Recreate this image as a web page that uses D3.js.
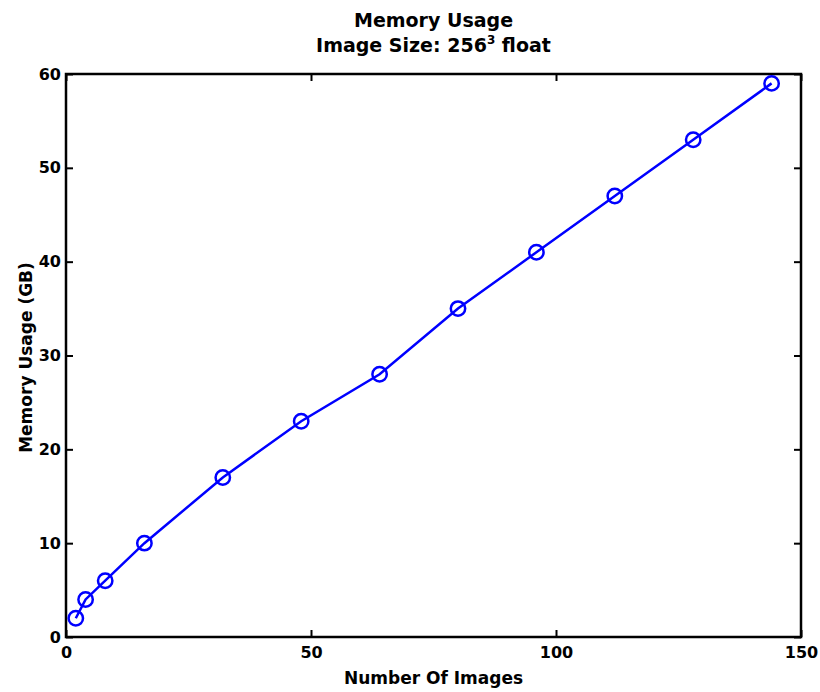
<!DOCTYPE html>
<html lang="en">
<head>
  <meta charset="UTF-8">
  <title>Memory Usage</title>
  <script src="https://d3js.org/d3.v7.min.js"></script>
  <style>
    body { margin: 0; background: #fff; }
    text { font-family: "DejaVu Sans", "Liberation Sans", Arial, sans-serif; font-weight: bold; fill: #000; }
  </style>
</head>
<body>
  <div id="chart"></div>
  <script>
    // data
    const numImages = [2, 4, 8, 16, 32, 48, 64, 80, 96, 112, 128, 144];
    const memoryGB = [2, 4, 6, 10, 17, 23, 28, 35, 41, 47, 53, 59];
    const xTicks = [0, 50, 100, 150];
    const yTicks = [0, 10, 20, 30, 40, 50, 60];

    const width = 820, height = 692;
    const margin = { top: 74, right: 19, bottom: 55, left: 66 };

    const svg = d3.select('#chart').append('svg')
      .attr('width', width)
      .attr('height', height);

    const x = d3.scaleLinear().domain([0, 150]).range([margin.left, width - margin.right]);
    const y = d3.scaleLinear().domain([0, 60]).range([height - margin.bottom, margin.top]);

    const tickLen = 7;

    // bottom axis (ticks inward)
    const gx = svg.append('g')
      .attr('transform', `translate(0, ${height - margin.bottom})`)
      .call(d3.axisBottom(x).tickValues(xTicks).tickSize(-tickLen).tickPadding(10));
    // left axis
    const gy = svg.append('g')
      .attr('transform', `translate(${margin.left}, 0)`)
      .call(d3.axisLeft(y).tickValues(yTicks).tickSize(-tickLen).tickPadding(5));
    // top and right ticks, no labels
    const gt = svg.append('g')
      .attr('transform', `translate(0, ${margin.top})`)
      .call(d3.axisTop(x).tickValues(xTicks).tickSize(-tickLen).tickFormat(''));
    const gr = svg.append('g')
      .attr('transform', `translate(${width - margin.right}, 0)`)
      .call(d3.axisRight(y).tickValues(yTicks).tickSize(-tickLen).tickFormat(''));

    [gx, gy, gt, gr].forEach(g => {
      g.select('.domain').remove();
      g.selectAll('line').attr('stroke', '#000').attr('stroke-width', 2);
      g.selectAll('text').style('font-size', '16px');
    });

    // box
    svg.append('rect')
      .attr('x', margin.left)
      .attr('y', margin.top)
      .attr('width', width - margin.left - margin.right)
      .attr('height', height - margin.top - margin.bottom)
      .attr('fill', 'none')
      .attr('stroke', '#000')
      .attr('stroke-width', 2.5);

    const pts = numImages.map((d, i) => [d, memoryGB[i]]);

    svg.append('path')
      .datum(pts)
      .attr('fill', 'none')
      .attr('stroke', '#0000ff')
      .attr('stroke-width', 2.5)
      .attr('d', d3.line().x(d => x(d[0])).y(d => y(d[1])));

    svg.selectAll('circle.pt')
      .data(pts)
      .enter()
      .append('circle')
      .attr('class', 'pt')
      .attr('cx', d => x(d[0]))
      .attr('cy', d => y(d[1]))
      .attr('r', 7.2)
      .attr('fill', 'none')
      .attr('stroke', '#0000ff')
      .attr('stroke-width', 2.5);

    const cx = (margin.left + width - margin.right) / 2;

    // titles
    svg.append('text')
      .attr('x', cx).attr('y', 27)
      .attr('text-anchor', 'middle')
      .style('font-size', '19px')
      .text('Memory Usage');
    const t2 = svg.append('text')
      .attr('x', cx).attr('y', 52)
      .attr('text-anchor', 'middle')
      .style('font-size', '19px');
    t2.append('tspan').text('Image Size: 256');
    t2.append('tspan').attr('dy', -8).style('font-size', '12px').text('3');
    t2.append('tspan').attr('dy', 8).text(' float');

    svg.append('text')
      .attr('x', cx).attr('y', 684)
      .attr('text-anchor', 'middle')
      .style('font-size', '17px')
      .text('Number Of Images');

    svg.append('text')
      .attr('transform', `translate(32, ${(margin.top + height - margin.bottom) / 2 + 2}) rotate(-90)`)
      .attr('text-anchor', 'middle')
      .style('font-size', '17px')
      .text('Memory Usage (GB)');
  </script>
</body>
</html>
